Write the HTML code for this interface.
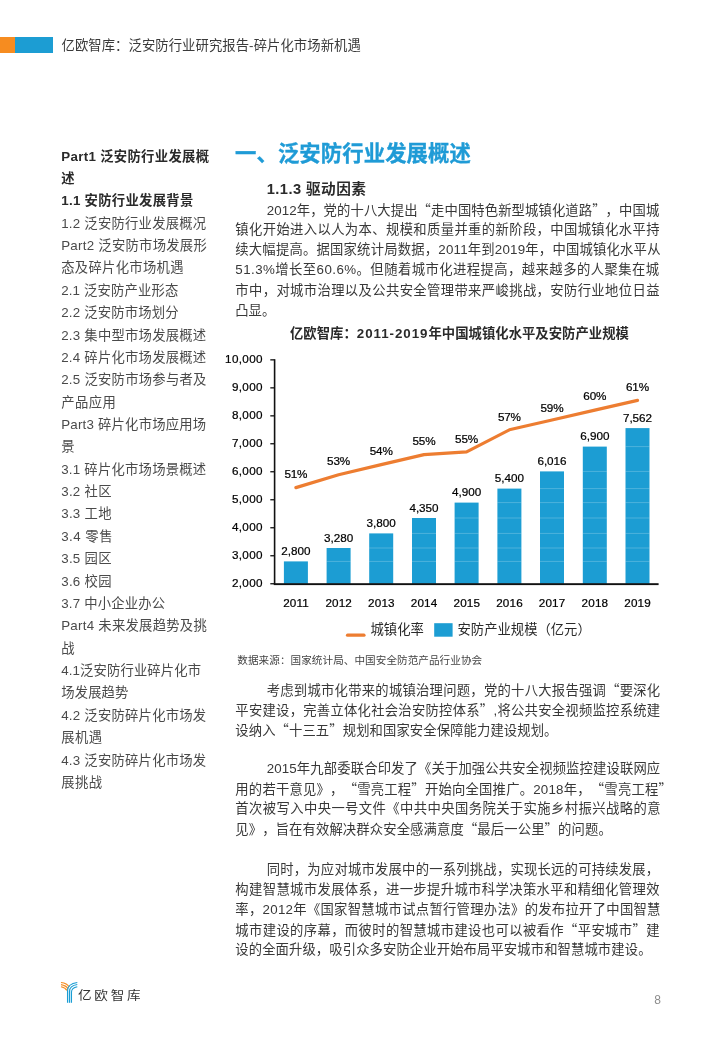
<!DOCTYPE html>
<html lang="zh-CN">
<head>
<meta charset="utf-8">
<title>亿欧智库：泛安防行业研究报告-碎片化市场新机遇</title>
<style>
html,body{margin:0;padding:0;background:#fff;}
body{width:720px;height:1040px;position:relative;overflow:hidden;text-spacing-trim:space-all;font-family:"Liberation Sans","Noto Sans CJK SC",sans-serif;color:#333;}
.l{position:absolute;white-space:nowrap;margin:0;padding:0;}
.q{font-family:"Noto Sans CJK SC",sans-serif;}
.hd{font-size:13.33px;line-height:20px;color:#3a3a3a;}
.sb{font-size:13.33px;line-height:22px;color:#4a4a4a;}
.sb.b{font-weight:bold;color:#2a2a2a;}
.h1{font-size:21.33px;line-height:30px;font-weight:bold;color:#1f9bd6;-webkit-text-stroke:0.35px #1f9bd6;}
.h2{font-size:14.67px;line-height:22px;font-weight:bold;color:#2b2b2b;}
.p{font-size:13.33px;line-height:20px;color:#383838;}
.ct{font-size:13.33px;line-height:20px;font-weight:bold;color:#2a2a2a;}
.src{font-size:10.6px;line-height:16px;color:#444;}
.lg{font-family:"Noto Sans CJK SC",sans-serif;font-weight:400;font-size:12.4px;line-height:20px;letter-spacing:2.45px;color:#333;transform:scaleX(1.1);transform-origin:0 0;}
.pg{font-size:12px;line-height:16px;color:#8c8c8c;}
svg text{font-family:"Liberation Sans","Noto Sans CJK SC",sans-serif;}
svg text.ax{font-size:11.7px;letter-spacing:0.35px;fill:#000;stroke:#000;stroke-width:0.22px;}
svg text.bv{letter-spacing:0;}
svg text.xl{letter-spacing:0.15px;}
svg text.pc{letter-spacing:-0.15px;}
</style>
</head>
<body>

<div style="position:absolute;left:0;top:36.8px;width:14.8px;height:16.6px;background:#f68c20"></div>
<div style="position:absolute;left:14.8px;top:36.8px;width:38.5px;height:16.6px;background:#1c9dd3"></div>
<div class="l hd" style="left:61.5px;top:35.8px;letter-spacing:0.073px;">亿欧智库：泛安防行业研究报告-碎片化市场新机遇</div>
<div class="l sb b" style="left:61.2px;top:145.5px;letter-spacing:0.323px;">Part1 泛安防行业发展概</div>
<div class="l sb b" style="left:61.2px;top:167.9px;">述</div>
<div class="l sb b" style="left:61.2px;top:190.2px;letter-spacing:0.291px;">1.1 安防行业发展背景</div>
<div class="l sb" style="left:61.2px;top:212.6px;letter-spacing:0.233px;">1.2 泛安防行业发展概况</div>
<div class="l sb" style="left:61.2px;top:235.0px;letter-spacing:0.262px;">Part2 泛安防市场发展形</div>
<div class="l sb" style="left:61.2px;top:257.4px;letter-spacing:0.300px;">态及碎片化市场机遇</div>
<div class="l sb" style="left:61.2px;top:279.7px;letter-spacing:0.160px;">2.1 泛安防产业形态</div>
<div class="l sb" style="left:61.2px;top:302.1px;letter-spacing:0.180px;">2.2 泛安防市场划分</div>
<div class="l sb" style="left:61.2px;top:324.5px;letter-spacing:0.233px;">2.3 集中型市场发展概述</div>
<div class="l sb" style="left:61.2px;top:346.8px;letter-spacing:0.233px;">2.4 碎片化市场发展概述</div>
<div class="l sb" style="left:61.2px;top:369.2px;letter-spacing:0.250px;">2.5 泛安防市场参与者及</div>
<div class="l sb" style="left:61.2px;top:391.6px;letter-spacing:0.467px;">产品应用</div>
<div class="l sb" style="left:61.2px;top:413.9px;letter-spacing:0.215px;">Part3 碎片化市场应用场</div>
<div class="l sb" style="left:61.2px;top:436.3px;">景</div>
<div class="l sb" style="left:61.2px;top:458.7px;letter-spacing:0.233px;">3.1 碎片化市场场景概述</div>
<div class="l sb" style="left:61.2px;top:481.1px;letter-spacing:0.280px;">3.2 社区</div>
<div class="l sb" style="left:61.2px;top:503.4px;letter-spacing:0.280px;">3.3 工地</div>
<div class="l sb" style="left:61.2px;top:525.8px;letter-spacing:0.480px;">3.4 零售</div>
<div class="l sb" style="left:61.2px;top:548.2px;letter-spacing:0.280px;">3.5 园区</div>
<div class="l sb" style="left:61.2px;top:570.5px;letter-spacing:0.280px;">3.6 校园</div>
<div class="l sb" style="left:61.2px;top:592.9px;letter-spacing:0.178px;">3.7 中小企业办公</div>
<div class="l sb" style="left:61.2px;top:615.3px;letter-spacing:0.262px;">Part4 未来发展趋势及挑</div>
<div class="l sb" style="left:61.2px;top:637.6px;">战</div>
<div class="l sb" style="left:61.2px;top:660.0px;letter-spacing:0.127px;">4.1泛安防行业碎片化市</div>
<div class="l sb" style="left:61.2px;top:682.4px;letter-spacing:0.150px;">场发展趋势</div>
<div class="l sb" style="left:61.2px;top:704.8px;letter-spacing:0.233px;">4.2 泛安防碎片化市场发</div>
<div class="l sb" style="left:61.2px;top:727.1px;letter-spacing:0.400px;">展机遇</div>
<div class="l sb" style="left:61.2px;top:749.5px;letter-spacing:0.233px;">4.3 泛安防碎片化市场发</div>
<div class="l sb" style="left:61.2px;top:771.9px;letter-spacing:0.400px;">展挑战</div>
<div class="l h1" style="left:235.0px;top:138.6px;letter-spacing:0.120px;">一、泛安防行业发展概述</div>
<div class="l h2" style="left:266.7px;top:177.7px;letter-spacing:0.444px;">1.1.3 驱动因素</div>
<div class="l p" style="left:266.7px;top:199.9px;letter-spacing:0.100px;">2012年，党的十八大提出<span class="q">“</span>走中国特色新型城镇化道路<span class="q">”</span>，中国城</div>
<div class="l p" style="left:235.3px;top:220.1px;letter-spacing:0.367px;">镇化开始进入以人为本、规模和质量并重的新阶段，中国城镇化水平持</div>
<div class="l p" style="left:235.3px;top:240.2px;letter-spacing:0.206px;">续大幅提高。据国家统计局数据，2011年到2019年，中国城镇化水平从</div>
<div class="l p" style="left:235.3px;top:260.4px;letter-spacing:0.441px;">51.3%增长至60.6%。但随着城市化进程提高，越来越多的人聚集在城</div>
<div class="l p" style="left:235.3px;top:280.5px;letter-spacing:0.367px;">市中，对城市治理以及公共安全管理带来严峻挑战，安防行业地位日益</div>
<div class="l p" style="left:235.3px;top:300.6px;">凸显。</div>
<div class="l p" style="left:266.7px;top:679.9px;letter-spacing:0.250px;">考虑到城市化带来的城镇治理问题，党的十八大报告强调<span class="q">“</span>要深化</div>
<div class="l p" style="left:235.3px;top:700.0px;letter-spacing:0.258px;">平安建设，完善立体化社会治安防控体系<span class="q">”</span>,将公共安全视频监控系统建</div>
<div class="l p" style="left:235.3px;top:720.2px;letter-spacing:0.096px;">设纳入<span class="q">“</span>十三五<span class="q">”</span>规划和国家安全保障能力建设规划。</div>
<div class="l p" style="left:266.7px;top:758.8px;letter-spacing:0.133px;">2015年九部委联合印发了《关于加强公共安全视频监控建设联网应</div>
<div class="l p" style="left:235.3px;top:779.0px;letter-spacing:0.212px;">用的若干意见》，<span class="q">“</span>雪亮工程<span class="q">”</span>开始向全国推广。2018年，<span class="q">“</span>雪亮工程<span class="q">”</span></div>
<div class="l p" style="left:235.3px;top:799.1px;letter-spacing:0.400px;">首次被写入中央一号文件《中共中央国务院关于实施乡村振兴战略的意</div>
<div class="l p" style="left:235.3px;top:819.2px;letter-spacing:0.119px;">见》，旨在有效解决群众安全感满意度<span class="q">“</span>最后一公里<span class="q">”</span>的问题。</div>
<div class="l p" style="left:266.7px;top:859.6px;letter-spacing:0.214px;">同时，为应对城市发展中的一系列挑战，实现长远的可持续发展，</div>
<div class="l p" style="left:235.3px;top:879.8px;letter-spacing:0.367px;">构建智慧城市发展体系，进一步提升城市科学决策水平和精细化管理效</div>
<div class="l p" style="left:235.3px;top:899.9px;letter-spacing:0.281px;">率，2012年《国家智慧城市试点暂行管理办法》的发布拉开了中国智慧</div>
<div class="l p" style="left:235.3px;top:920.0px;letter-spacing:0.367px;">城市建设的序幕，而彼时的智慧城市建设也可以被看作<span class="q">“</span>平安城市<span class="q">”</span>建</div>
<div class="l p" style="left:235.3px;top:940.2px;letter-spacing:0.100px;">设的全面升级，吸引众多安防企业开始布局平安城市和智慧城市建设。</div>
<div class="l ct" style="left:290.0px;top:324.4px;letter-spacing:0.041px;">亿欧智库：<span style="letter-spacing:0.95px">2011-2019</span>年中国城镇化水平及安防产业规模</div>
<svg width="720" height="1040" viewBox="0 0 720 1040" style="position:absolute;left:0;top:0;pointer-events:none">
<rect x="283.9" y="561.4" width="24" height="22.4" fill="#1c9dd3"/>
<rect x="326.6" y="548.0" width="24" height="35.8" fill="#1c9dd3"/>
<rect x="326.6" y="560.9" width="24" height="1" fill="#fff" opacity="0.22"/>
<rect x="369.2" y="533.4" width="24" height="50.4" fill="#1c9dd3"/>
<rect x="369.2" y="560.9" width="24" height="1" fill="#fff" opacity="0.22"/>
<rect x="369.2" y="547.5" width="24" height="1" fill="#fff" opacity="0.22"/>
<rect x="412.0" y="518.0" width="24" height="65.8" fill="#1c9dd3"/>
<rect x="412.0" y="560.9" width="24" height="1" fill="#fff" opacity="0.22"/>
<rect x="412.0" y="547.5" width="24" height="1" fill="#fff" opacity="0.22"/>
<rect x="412.0" y="532.9" width="24" height="1" fill="#fff" opacity="0.22"/>
<rect x="454.6" y="502.6" width="24" height="81.2" fill="#1c9dd3"/>
<rect x="454.6" y="560.9" width="24" height="1" fill="#fff" opacity="0.22"/>
<rect x="454.6" y="547.5" width="24" height="1" fill="#fff" opacity="0.22"/>
<rect x="454.6" y="532.9" width="24" height="1" fill="#fff" opacity="0.22"/>
<rect x="454.6" y="517.5" width="24" height="1" fill="#fff" opacity="0.22"/>
<rect x="497.4" y="488.6" width="24" height="95.2" fill="#1c9dd3"/>
<rect x="497.4" y="560.9" width="24" height="1" fill="#fff" opacity="0.22"/>
<rect x="497.4" y="547.5" width="24" height="1" fill="#fff" opacity="0.22"/>
<rect x="497.4" y="532.9" width="24" height="1" fill="#fff" opacity="0.22"/>
<rect x="497.4" y="517.5" width="24" height="1" fill="#fff" opacity="0.22"/>
<rect x="497.4" y="502.1" width="24" height="1" fill="#fff" opacity="0.22"/>
<rect x="540.0" y="471.4" width="24" height="112.4" fill="#1c9dd3"/>
<rect x="540.0" y="560.9" width="24" height="1" fill="#fff" opacity="0.22"/>
<rect x="540.0" y="547.5" width="24" height="1" fill="#fff" opacity="0.22"/>
<rect x="540.0" y="532.9" width="24" height="1" fill="#fff" opacity="0.22"/>
<rect x="540.0" y="517.5" width="24" height="1" fill="#fff" opacity="0.22"/>
<rect x="540.0" y="502.1" width="24" height="1" fill="#fff" opacity="0.22"/>
<rect x="540.0" y="488.1" width="24" height="1" fill="#fff" opacity="0.22"/>
<rect x="582.8" y="446.6" width="24" height="137.2" fill="#1c9dd3"/>
<rect x="582.8" y="560.9" width="24" height="1" fill="#fff" opacity="0.22"/>
<rect x="582.8" y="547.5" width="24" height="1" fill="#fff" opacity="0.22"/>
<rect x="582.8" y="532.9" width="24" height="1" fill="#fff" opacity="0.22"/>
<rect x="582.8" y="517.5" width="24" height="1" fill="#fff" opacity="0.22"/>
<rect x="582.8" y="502.1" width="24" height="1" fill="#fff" opacity="0.22"/>
<rect x="582.8" y="488.1" width="24" height="1" fill="#fff" opacity="0.22"/>
<rect x="582.8" y="470.9" width="24" height="1" fill="#fff" opacity="0.22"/>
<rect x="625.5" y="428.1" width="24" height="155.7" fill="#1c9dd3"/>
<rect x="625.5" y="560.9" width="24" height="1" fill="#fff" opacity="0.22"/>
<rect x="625.5" y="547.5" width="24" height="1" fill="#fff" opacity="0.22"/>
<rect x="625.5" y="532.9" width="24" height="1" fill="#fff" opacity="0.22"/>
<rect x="625.5" y="517.5" width="24" height="1" fill="#fff" opacity="0.22"/>
<rect x="625.5" y="502.1" width="24" height="1" fill="#fff" opacity="0.22"/>
<rect x="625.5" y="488.1" width="24" height="1" fill="#fff" opacity="0.22"/>
<rect x="625.5" y="470.9" width="24" height="1" fill="#fff" opacity="0.22"/>
<rect x="625.5" y="446.1" width="24" height="1" fill="#fff" opacity="0.22"/>
<rect x="273.8" y="359.2" width="1.6" height="225.2" fill="#111"/>
<rect x="273.8" y="583.2" width="384.8" height="1.9" fill="#111"/>
<rect x="270.3" y="583.1" width="4.2" height="1.3" fill="#111"/>
<text class="ax" x="262.9" y="587.4" text-anchor="end">2,000</text>
<rect x="270.3" y="555.1" width="4.2" height="1.3" fill="#111"/>
<text class="ax" x="262.9" y="559.4" text-anchor="end">3,000</text>
<rect x="270.3" y="527.1" width="4.2" height="1.3" fill="#111"/>
<text class="ax" x="262.9" y="531.4" text-anchor="end">4,000</text>
<rect x="270.3" y="499.1" width="4.2" height="1.3" fill="#111"/>
<text class="ax" x="262.9" y="503.4" text-anchor="end">5,000</text>
<rect x="270.3" y="471.1" width="4.2" height="1.3" fill="#111"/>
<text class="ax" x="262.9" y="475.4" text-anchor="end">6,000</text>
<rect x="270.3" y="443.1" width="4.2" height="1.3" fill="#111"/>
<text class="ax" x="262.9" y="447.4" text-anchor="end">7,000</text>
<rect x="270.3" y="415.2" width="4.2" height="1.3" fill="#111"/>
<text class="ax" x="262.9" y="419.4" text-anchor="end">8,000</text>
<rect x="270.3" y="387.2" width="4.2" height="1.3" fill="#111"/>
<text class="ax" x="262.9" y="391.4" text-anchor="end">9,000</text>
<rect x="270.3" y="359.2" width="4.2" height="1.3" fill="#111"/>
<text class="ax" x="262.9" y="363.4" text-anchor="end">10,000</text>
<text class="ax bv" x="295.9" y="555.1" text-anchor="middle">2,800</text>
<text class="ax xl" x="296.0" y="607.4" text-anchor="middle">2011</text>
<text class="ax pc" x="295.9" y="478.0" text-anchor="middle">51%</text>
<text class="ax bv" x="338.6" y="541.7" text-anchor="middle">3,280</text>
<text class="ax xl" x="338.7" y="607.4" text-anchor="middle">2012</text>
<text class="ax pc" x="338.6" y="465.1" text-anchor="middle">53%</text>
<text class="ax bv" x="381.2" y="527.1" text-anchor="middle">3,800</text>
<text class="ax xl" x="381.4" y="607.4" text-anchor="middle">2013</text>
<text class="ax pc" x="381.2" y="455.0" text-anchor="middle">54%</text>
<text class="ax bv" x="424.0" y="511.7" text-anchor="middle">4,350</text>
<text class="ax xl" x="424.1" y="607.4" text-anchor="middle">2014</text>
<text class="ax pc" x="424.0" y="445.0" text-anchor="middle">55%</text>
<text class="ax bv" x="466.6" y="496.3" text-anchor="middle">4,900</text>
<text class="ax xl" x="466.8" y="607.4" text-anchor="middle">2015</text>
<text class="ax pc" x="466.6" y="442.7" text-anchor="middle">55%</text>
<text class="ax bv" x="509.4" y="482.3" text-anchor="middle">5,400</text>
<text class="ax xl" x="509.5" y="607.4" text-anchor="middle">2016</text>
<text class="ax pc" x="509.4" y="421.4" text-anchor="middle">57%</text>
<text class="ax bv" x="552.0" y="465.1" text-anchor="middle">6,016</text>
<text class="ax xl" x="552.1" y="607.4" text-anchor="middle">2017</text>
<text class="ax pc" x="552.0" y="412.4" text-anchor="middle">59%</text>
<text class="ax bv" x="594.8" y="440.3" text-anchor="middle">6,900</text>
<text class="ax xl" x="594.9" y="607.4" text-anchor="middle">2018</text>
<text class="ax pc" x="594.8" y="400.0" text-anchor="middle">60%</text>
<text class="ax bv" x="637.5" y="421.8" text-anchor="middle">7,562</text>
<text class="ax xl" x="637.6" y="607.4" text-anchor="middle">2019</text>
<text class="ax pc" x="637.5" y="391.3" text-anchor="middle">61%</text>
<polyline points="295.9,487.6 338.6,474.7 381.2,464.6 424.0,454.6 466.6,451.8 509.4,429.8 552.0,420.0 594.8,410.1 637.5,400.4" fill="none" stroke="#ed7d31" stroke-width="3.2" stroke-linecap="round" stroke-linejoin="round"/>
<line x1="347.5" y1="635.2" x2="364" y2="635.2" stroke="#ed7d31" stroke-width="3.2" stroke-linecap="round"/>
<rect x="434.2" y="623.2" width="18.4" height="13.5" fill="#1c9dd3"/>
<text x="370.5" y="633.7" font-size="13.33" fill="#2a2a2a">城镇化率</text>
<text x="457.5" y="633.7" font-size="13.33" fill="#2a2a2a">安防产业规模（亿元）</text>
</svg>
<div class="l src" style="left:237.3px;top:652.0px;letter-spacing:0.055px;">数据来源：国家统计局、中国安全防范产品行业协会</div>
<div class="l pg" style="left:654.2px;top:992.0px;">8</div>
<svg width="30" height="40" viewBox="56 974 30 40" style="position:absolute;left:56px;top:974px">
<g fill="none" stroke="#f68c20" stroke-width="1.15" stroke-linecap="butt">
<path d="M61.0,982.5 C65.0,983.0 68.0,984.8 69.2,987.0"/>
<path d="M61.0,984.6 C64.5,985.2 66.9,986.8 68.0,988.8"/>
<path d="M61.0,986.7 C63.6,987.2 65.8,988.4 66.9,990.4"/>
</g>
<rect x="67.5" y="990.5" width="4" height="12.3" fill="#c9ecfa"/>
<g fill="none" stroke="#1c9dd3" stroke-width="1.05" stroke-linecap="butt">
<path d="M67.5,1002.8 L67.5,991.0 C67.5,986.0 72.0,983.2 77.3,982.5"/>
<path d="M69.5,1002.8 L69.5,991.5 C69.5,987.6 73.0,985.3 77.3,984.6"/>
<path d="M71.5,1002.8 L71.5,992.0 C71.5,989.2 74.0,987.4 77.3,986.7"/>
</g>
</svg>
<div class="l lg" style="left:78.2px;top:985.2px;">亿欧智库</div>
</body>
</html>
